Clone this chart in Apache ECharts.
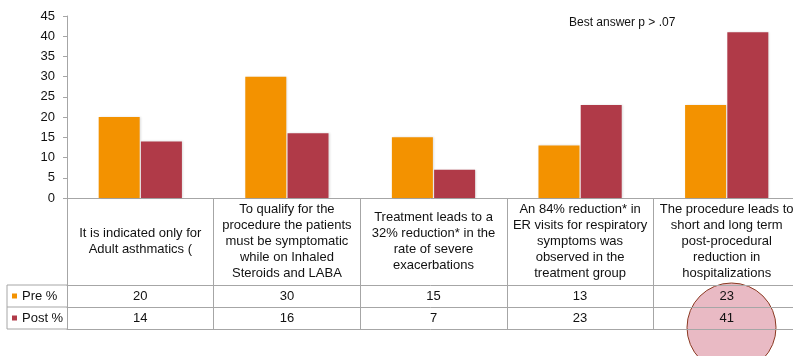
<!DOCTYPE html>
<html>
<head>
<meta charset="utf-8">
<script src="https://cdn.jsdelivr.net/npm/echarts@6/dist/echarts.min.js"></script>
<style>
  html, body { margin: 0; padding: 0; background: #fff; }
  #chart { width: 793px; height: 356px; }
</style>
</head>
<body>
<div id="chart"></div>
<script>
// Statements shown in the table header row
const categories = [
  'It is indicated only for\nAdult asthmatics (',
  'To qualify for the\nprocedure the patients\nmust be symptomatic\nwhile on Inhaled\nSteroids and LABA',
  'Treatment leads to a\n32% reduction* in the\nrate of severe\nexacerbations',
  'An 84% reduction* in\nER visits for respiratory\nsymptoms was\nobserved in the\ntreatment group',
  'The procedure leads to\nshort and long term\npost-procedural\nreduction in\nhospitalizations'
];
const seriesNames = ['Pre %', 'Post %'];
const preValues = [20, 30, 15, 13, 23];
const postValues = [14, 16, 7, 23, 41];
const yTicks = [0, 5, 10, 15, 20, 25, 30, 35, 40, 45];
const noteText = 'Best answer p > .07';

const FONT = '"Liberation Sans", Arial, sans-serif';
const LINE = '#a6a6a6';
const ORANGE = '#f39200';
const RED = '#b03a48';

// Layout of the plot and the data table beneath it
const GRID_LEFT = 67, GRID_TOP = 16, GRID_W = 733, GRID_H = 182;
const HEAD_H = 87, ROW_H = 22, TABLE_LEFT = 7;

const chart = echarts.init(document.getElementById('chart'), null, { renderer: 'canvas' });

function rowAxis(offset, values) {
  return {
    type: 'category',
    data: categories,
    gridIndex: 0,
    position: 'bottom',
    offset: offset,
    axisLine: { show: true, lineStyle: { color: LINE, width: 1 } },
    axisTick: { show: false },
    axisLabel: values ? {
      show: true,
      interval: 0,
      margin: ROW_H / 2,
      verticalAlign: 'middle',
      fontFamily: FONT,
      fontSize: 13,
      color: '#111',
      formatter: (v, i) => String(values[i])
    } : { show: false },
    splitLine: { show: false }
  };
}

const gridBottomY = GRID_TOP + GRID_H;
const r1 = gridBottomY + HEAD_H;
const r2 = r1 + ROW_H;
const r3 = r2 + ROW_H;

const barStyle = (color) => ({
  color: color,
  shadowColor: 'rgba(0,0,0,0.12)',
  shadowBlur: 2,
  shadowOffsetX: 1,
  shadowOffsetY: 0
});

const option = {
  animation: false,
  backgroundColor: '#fff',
  textStyle: { fontFamily: FONT },
  title: {
    text: noteText,
    left: 569,
    top: 17,
    padding: 0,
    textStyle: { fontFamily: FONT, fontSize: 12, fontWeight: 'normal', color: '#111' }
  },
  legend: {
    orient: 'vertical',
    left: 12,
    top: r1 + 3,
    padding: 0,
    itemGap: 6,
    itemWidth: 5,
    itemHeight: 5,
    icon: 'rect',
    data: seriesNames,
    selectedMode: false,
    textStyle: { fontFamily: FONT, fontSize: 13, color: '#111', lineHeight: 16 }
  },
  grid: {
    left: GRID_LEFT, top: GRID_TOP, width: GRID_W, height: GRID_H,
    containLabel: false,
    outerBoundsMode: 'none'
  },
  xAxis: [
    {
      type: 'category',
      data: categories,
      position: 'bottom',
      axisLine: { show: true, lineStyle: { color: LINE, width: 1 } },
      axisTick: { show: true, length: HEAD_H + 2 * ROW_H, alignWithLabel: false, lineStyle: { color: LINE, width: 1 } },
      axisLabel: {
        interval: 0,
        margin: HEAD_H / 2,
        verticalAlign: 'middle',
        align: 'center',
        fontFamily: FONT,
        fontSize: 13,
        lineHeight: 16,
        color: '#111'
      },
      splitLine: { show: false }
    },
    rowAxis(HEAD_H, preValues),
    rowAxis(HEAD_H + ROW_H, postValues),
    rowAxis(HEAD_H + 2 * ROW_H, null)
  ],
  yAxis: {
    type: 'value',
    min: yTicks[0],
    max: yTicks[yTicks.length - 1],
    interval: 5,
    axisLine: { show: true, lineStyle: { color: LINE, width: 1 } },
    axisTick: { show: true, length: 4, lineStyle: { color: LINE } },
    axisLabel: { margin: 12, fontFamily: FONT, fontSize: 13, color: '#111' },
    splitLine: { show: false }
  },
  series: [
    { name: seriesNames[0], type: 'bar', data: preValues, barWidth: 41, barGap: '3%', itemStyle: barStyle(ORANGE) },
    { name: seriesNames[1], type: 'bar', data: postValues, barWidth: 41, barGap: '3%', itemStyle: barStyle(RED) }
  ],
  graphic: [
    // row-header part of the table (left of the plot area)
    { type: 'line', z: 1, shape: { x1: TABLE_LEFT, y1: r1, x2: GRID_LEFT, y2: r1 }, style: { stroke: LINE, lineWidth: 1 } },
    { type: 'line', z: 1, shape: { x1: TABLE_LEFT, y1: r2, x2: GRID_LEFT, y2: r2 }, style: { stroke: LINE, lineWidth: 1 } },
    { type: 'line', z: 1, shape: { x1: TABLE_LEFT, y1: r3, x2: GRID_LEFT, y2: r3 }, style: { stroke: LINE, lineWidth: 1 } },
    { type: 'line', z: 1, shape: { x1: TABLE_LEFT, y1: r1, x2: TABLE_LEFT, y2: r3 }, style: { stroke: LINE, lineWidth: 1 } },
    // highlight ring around the last column's values
    { type: 'circle', z: -10, shape: { cx: 731.5, cy: 327.5, r: 44.5 }, style: { fill: '#e9bac4', stroke: '#8b3a22', lineWidth: 1 } }
  ]
};

chart.setOption(option);
</script>
</body>
</html>
